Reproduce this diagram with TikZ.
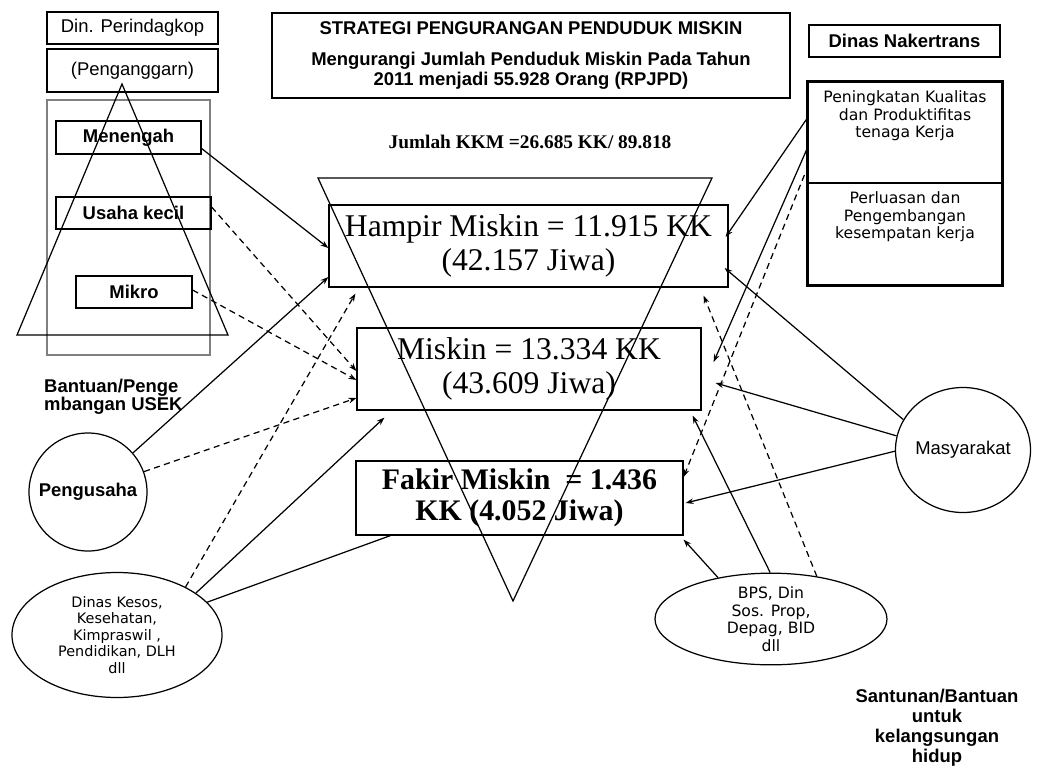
\documentclass[tikz,border=0pt]{standalone}
\usepackage{fontspec}
\setmainfont{Liberation Serif}
\setsansfont{Liberation Sans}
\newfontfamily\pixfont{DejaVu Sans}
\usetikzlibrary{arrows.meta,shapes.geometric,calc}

\begin{document}
\begin{tikzpicture}[x=0.02cm, y=-0.02cm,
		sz/.style 2 args={minimum width=#1*0.02cm, minimum height=#2*0.02cm},
		box/.style={draw, line width=0.7pt, inner sep=0pt, align=center},
		oval/.style={draw, ellipse, line width=0.7pt, inner sep=0pt, align=center},
		lab/.style={font=\fontsize{10.5}{12}\selectfont\sffamily\bfseries, align=center},
		plain/.style={font=\fontsize{10.5}{12}\selectfont\sffamily},
		pix/.style={font=\fontsize{8.2}{9.4}\selectfont\pixfont, align=center},
		pixbig/.style={font=\fontsize{8.9}{10}\selectfont\pixfont, align=center},
		big/.style={font=\fontsize{18}{19.4}\selectfont},
		arr/.style={line width=0.7pt, -{Stealth[length=4.5pt,width=3.2pt]}},
		dasharr/.style={arr, dash pattern=on 3.5pt off 2.5pt},
		link/.style={line width=0.7pt}]
	\useasboundingbox (0,0) rectangle (1039,768);
	% kiri
	\node[box, plain, sz={171}{32}] (perindag) at (132.5,28) {Din. Perindagkop};
	\node[box, plain, sz={171}{43}] (anggaran) at (132.5,70.5) {(Penganggarn)};
	\draw[gray, line width=0.8pt] (47,100) rectangle (210,355);
	\draw[line width=0.7pt] (122,84) -- (228,335) -- (17,335) -- cycle;
	\node[box, lab, sz={145}{33}] (menengah) at (128.5,137.5) {Menengah};
	\node[box, lab, sz={155}{32}] (kecil) at (133.5,213) {Usaha kecil};
	\node[box, lab, sz={116}{32}] (mikro) at (134,292) {Mikro};
	\node[lab, font=\fontsize{10.5}{10.4}\selectfont\sffamily\bfseries, anchor=west, align=left] (usek) at (38,397) {Bantuan/Penge\\mbangan USEK};
	\node[draw, circle, lab, line width=0.7pt, inner sep=0pt, minimum size=118*0.02cm] (pengusaha) at (88,492) {Pengusaha};
	\node[oval, pix, sz={210}{125}] (kesos) at (117,635) {Dinas Kesos,\\Kesehatan,\\Kimpraswil ,\\Pendidikan, DLH\\dll};
	% tengah
	\node[box, sz={518}{85}, font=\fontsize{10.5}{11.4}\selectfont\sffamily\bfseries] (judul) at (531,55.5) {STRATEGI PENGURANGAN PENDUDUK MISKIN\\[6.6pt]Mengurangi Jumlah Penduduk Miskin Pada Tahun\\2011 menjadi 55.928 Orang (RPJPD)};
	\node[font=\fontsize{11}{13}\selectfont\bfseries] (jumlah) at (530,142) {Jumlah KKM =26.685 KK/ 89.818};
	\draw[line width=0.7pt] (318,178) -- (712,178) -- (513,601) -- cycle;
	\node[box, big, sz={399}{82}] (hampir) at (528.5,246) {Hampir Miskin = 11.915 KK\\(42.157 Jiwa)};
	\node[box, big, sz={344}{82}] (miskin) at (529,369) {Miskin = 13.334 KK\\(43.609 Jiwa)};
	\node[box, sz={327}{74}, font=\fontsize{17}{17.8}\selectfont\bfseries] (fakir) at (519.5,498) {Fakir Miskin\ \ = 1.436\\KK (4.052 Jiwa)};
	% kanan
	\node[box, lab, sz={191}{32}] (nakertrans) at (904.5,41) {Dinas Nakertrans};
	\node[box, sz={194}{101}] (kualitas) at (905,132.5) {};
	\node[box, sz={194}{102}] (perluasan) at (905,234) {};
	\draw[line width=1.8pt] (kualitas.north west) rectangle (perluasan.south east);
	\node[pixbig, anchor=north, inner sep=0pt] (kualitas-t) at ([shift={(0,9)}]kualitas.north) {Peningkatan Kualitas\\dan Produktifitas\\tenaga Kerja};
	\node[pixbig, anchor=north, inner sep=0pt] (perluasan-t) at ([shift={(0,9)}]perluasan.north) {Perluasan dan\\Pengembangan\\kesempatan kerja};
	\node[oval, plain, sz={135}{125}] (masyarakat) at (963,450) {Masyarakat};
	\node[oval, pixbig, sz={232}{88}] (bps) at (771,619) {BPS, Din\\Sos. Prop,\\Depag, BID\\dll};
	\node[lab, font=\fontsize{10.5}{11.4}\selectfont\sffamily\bfseries] (santunan) at (937,728) {Santunan/Bantuan\\untuk\\kelangsungan\\hidup};
	% panah kiri
	\draw[arr] ([shift={(0,11)}]menengah.east) -- ([shift={(0,2)}]hampir.west);
	\draw[dasharr] ([shift={(0,-6)}]kecil.east) -- ([shift={(0,2)}]miskin.west);
	\draw[dasharr] ([shift={(0,-2)}]mikro.east) -- ([shift={(0,11)}]miskin.west);
	\draw[arr] (pengusaha.41) -- ([shift={(0,31)}]hampir.west);
	\draw[dasharr] (pengusaha.20) -- ([shift={(0,29)}]miskin.west);
	\draw[dasharr] (kesos.35) -- ([shift={(27,6)}]hampir.south west);
	\draw[arr] (kesos.28) -- ([shift={(28,7)}]miskin.south west);
	\draw[link] (kesos.20) -- ([shift={(35,0)}]fakir.south west);
	% panah kanan
	\draw[arr] ([shift={(0,-14.5)}]kualitas.west) -- ([shift={(-3,-9)}]hampir.east);
	\draw[arr] ([shift={(0,15.5)}]kualitas.west) -- ([shift={(12,-7)}]miskin.east);
	\draw[dasharr] ([shift={(-3,42.5)}]kualitas.west) -- ([shift={(0,-21)}]fakir.east);
	\draw[arr] (masyarakat.153) -- ([shift={(-4,22)}]hampir.east);
	\draw[arr] (masyarakat.168) -- ([shift={(14,14)}]miskin.east);
	\draw[arr] (masyarakat.181) -- ([shift={(2,5)}]fakir.east);
	\draw[arr] (bps.142) -- ([shift={(0,4)}]fakir.south east);
	\draw[arr] (bps.91) -- ([shift={(-9,5)}]miskin.south east);
	\draw[dasharr] (bps.43) -- ([shift={(-25,8)}]hampir.south east);
\end{tikzpicture}
\end{document}
